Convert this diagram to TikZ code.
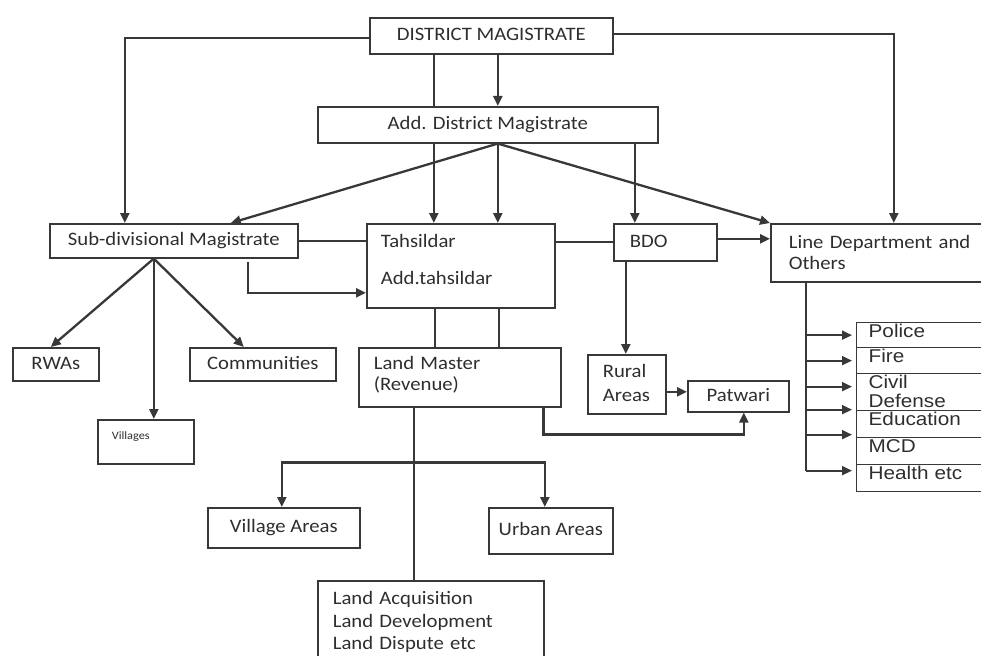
\documentclass[tikz,border=0pt]{standalone}
\usepackage{fontspec}
\setmainfont{Carlito}[FakeStretch=1.09]
\newfontfamily\arialfont{Liberation Sans}[FakeStretch=1.12]
\usetikzlibrary{arrows.meta}
\definecolor{ink}{HTML}{2E2E2E}
\definecolor{edge}{HTML}{383838}

\begin{document}
\begin{tikzpicture}[x=1pt, y=-1pt]
    \tikzstyle{box}=[draw=edge, line width=1.6pt, anchor=north west, inner sep=0pt, text=ink, font=\fontsize{19}{22}\selectfont]
    \tikzstyle{cbox}=[box, text height=13pt, text depth=3pt]
    \tikzstyle{row}=[box, line width=1.3pt, minimum width=140pt, inner xsep=12pt, text width=116pt, text height=15pt, font=\arialfont\fontsize{18.5}{19}\selectfont]
    \tikzstyle{ln}=[draw=edge, line width=1.8pt]
    \tikzstyle{arr}=[ln, line width=2.3pt, -{Triangle[length=10pt,width=9pt]}]

    \useasboundingbox (0,0) rectangle (981,655);

    % boxes
    \node[cbox, minimum width=243pt, minimum height=36pt] (dm) at (369,17) {DISTRICT MAGISTRATE};
    \node[cbox, minimum width=340pt, minimum height=36pt] (adm) at (317,106) {Add. District Magistrate};
    \node[cbox, minimum width=248pt, minimum height=34pt] (sdm) at (49,223) {Sub-divisional Magistrate};
    \node[box, inner xsep=14pt, text width=160pt, text height=24pt, text depth=60pt] (tah) at (366,223) {Tahsildar\\[15pt]Add.tahsildar};
    \node[box, inner xsep=16pt, text width=71pt, text height=24pt, text depth=13pt] (bdo) at (613,223) {BDO};
    \node[box, inner xsep=18pt, text width=200pt, text height=25pt, text depth=33pt] (line) at (770,223) {Line Department and\\[-1pt]Others};
    \node[cbox, minimum width=86pt, minimum height=33pt] (rwa) at (12,347) {RWAs};
    \node[cbox, minimum width=146pt, minimum height=33pt] (comm) at (189,347) {Communities};
    \node[box, inner xsep=14pt, text width=68pt, text height=20pt, text depth=24pt, font=\fontsize{11.3}{13}\selectfont] (vill) at (97,419) {Villages};
    \node[box, inner xsep=15pt, text width=172pt, text height=22pt, text depth=37pt] (lm) at (358,347) {Land Master\\[-1pt](Revenue)};
    \node[box, inner xsep=15pt, text width=48pt, text height=23pt, text depth=36pt] (rural) at (587,354) {Rural\\[2pt]Areas};
    \node[cbox, minimum width=101pt, minimum height=31pt] (pat) at (687,380) {Patwari};
    \node[cbox, minimum width=152pt, minimum height=40pt] (va) at (207,507) {Village Areas};
    \node[cbox, minimum width=124pt, minimum height=46pt] (ua) at (488,507) {Urban Areas};
    \node[box, inner xsep=15pt, text width=196pt, text height=24pt, text depth=66pt] (acq) at (317,580) {Land Acquisition\\[0.5pt]Land Development\\[0.5pt]Land Dispute etc};

    % line departments
    \node[row, text depth=10pt] (pol) at (856,322) {Police};
    \node[row, text depth=11pt] (fire) at (856,347) {Fire};
    \node[row, text depth=22pt] (civ) at (856,373) {Civil\\Defense};
    \node[row, text depth=12pt] (edu) at (856,410) {Education};
    \node[row, text depth=12pt] (mcd) at (856,437) {MCD};
    \node[row, text depth=12pt] (hlth) at (856,464) {Health etc};

    \coordinate (admfan) at ([xshift=10pt]adm.south);
    \coordinate (sdmfan) at ([xshift=-20pt]sdm.south);
    \coordinate (lmfork) at ([xshift=-46pt,yshift=-55pt]lm.south);
    \coordinate (trunk) at ([xshift=-83pt]line.south);

    % district magistrate
    \draw[arr] ([yshift=-2pt]dm.west) -| ([xshift=-49pt]sdm.north);
    \draw[arr] ([yshift=2pt]dm.east) -| ([xshift=5pt]line.north);
    \draw[ln] ([xshift=-57.5pt]dm.south) -- ([xshift=-57.5pt]dm.south |- adm.north);
    \draw[arr] ([xshift=6.5pt]dm.south) -- ([xshift=6.5pt]dm.south |- adm.north);

    % additional DM
    \draw[arr] (admfan) -- ([xshift=57pt]sdm.north);
    \draw[arr] (admfan) -- (line.north west);
    \foreach \s in {-54,10}
        \draw[arr] ([xshift=\s pt]adm.south) -- ([xshift=\s pt]adm.south |- tah.north);
    \draw[arr] ([xshift=147pt]adm.south) -- ([xshift=147pt]adm.south |- bdo.north);

    % sub-divisional
    \draw[ln] (sdm.east) -- (sdm.east -| tah.west);
    \draw[arr] ([xshift=74pt,yshift=-3pt]sdm.south) |- ([yshift=-27pt]tah.west);
    \draw[arr] (sdmfan) -- ([xshift=-5pt]rwa.north);
    \draw[arr] (sdmfan) -- ([xshift=-19pt]comm.north);
    \draw[arr] (sdmfan) -- ([xshift=8pt]vill.north);

    % tahsildar and BDO
    \draw[ln] (bdo.west) -- (bdo.west -| tah.east);
    \draw[arr] ([yshift=3.5pt]bdo.east) -- ([yshift=3.5pt]bdo.east -| line.west);
    \foreach \s in {-26,38}
        \draw[ln] ([xshift=\s pt]tah.south) -- ([xshift=\s pt]tah.south |- lm.north);
    \draw[arr] ([xshift=-39.5pt]bdo.south) -- ([xshift=-39.5pt]bdo.south |- rural.north);
    \draw[arr] ([yshift=-7.5pt]rural.east) -- ([yshift=-7.5pt]rural.east -| pat.west);

    % land master
    \draw[arr] ([xshift=-18pt]lm.south east) -- ++(0,27) -| ([xshift=5.5pt]pat.south);
    \draw[ln] ([xshift=-46pt]lm.south) -- ([xshift=-46pt]lm.south |- acq.north);
    \draw[arr] (lmfork) -| ([xshift=-2pt]va.north);
    \draw[arr] (lmfork) -| ([xshift=-6pt]ua.north);

    % line departments
    \draw[ln] (trunk) -- ([yshift=7.5pt]hlth.west -| trunk);
    \foreach \n/\s in {pol/0,fire/0,civ/5.5,edu/14.5,mcd/16.5,hlth/7.5}
        \draw[arr, line width=1.8pt, shorten >=4pt] ([yshift=\s pt]\n.west -| trunk) -- ([yshift=\s pt]\n.west);
\end{tikzpicture}
\end{document}
